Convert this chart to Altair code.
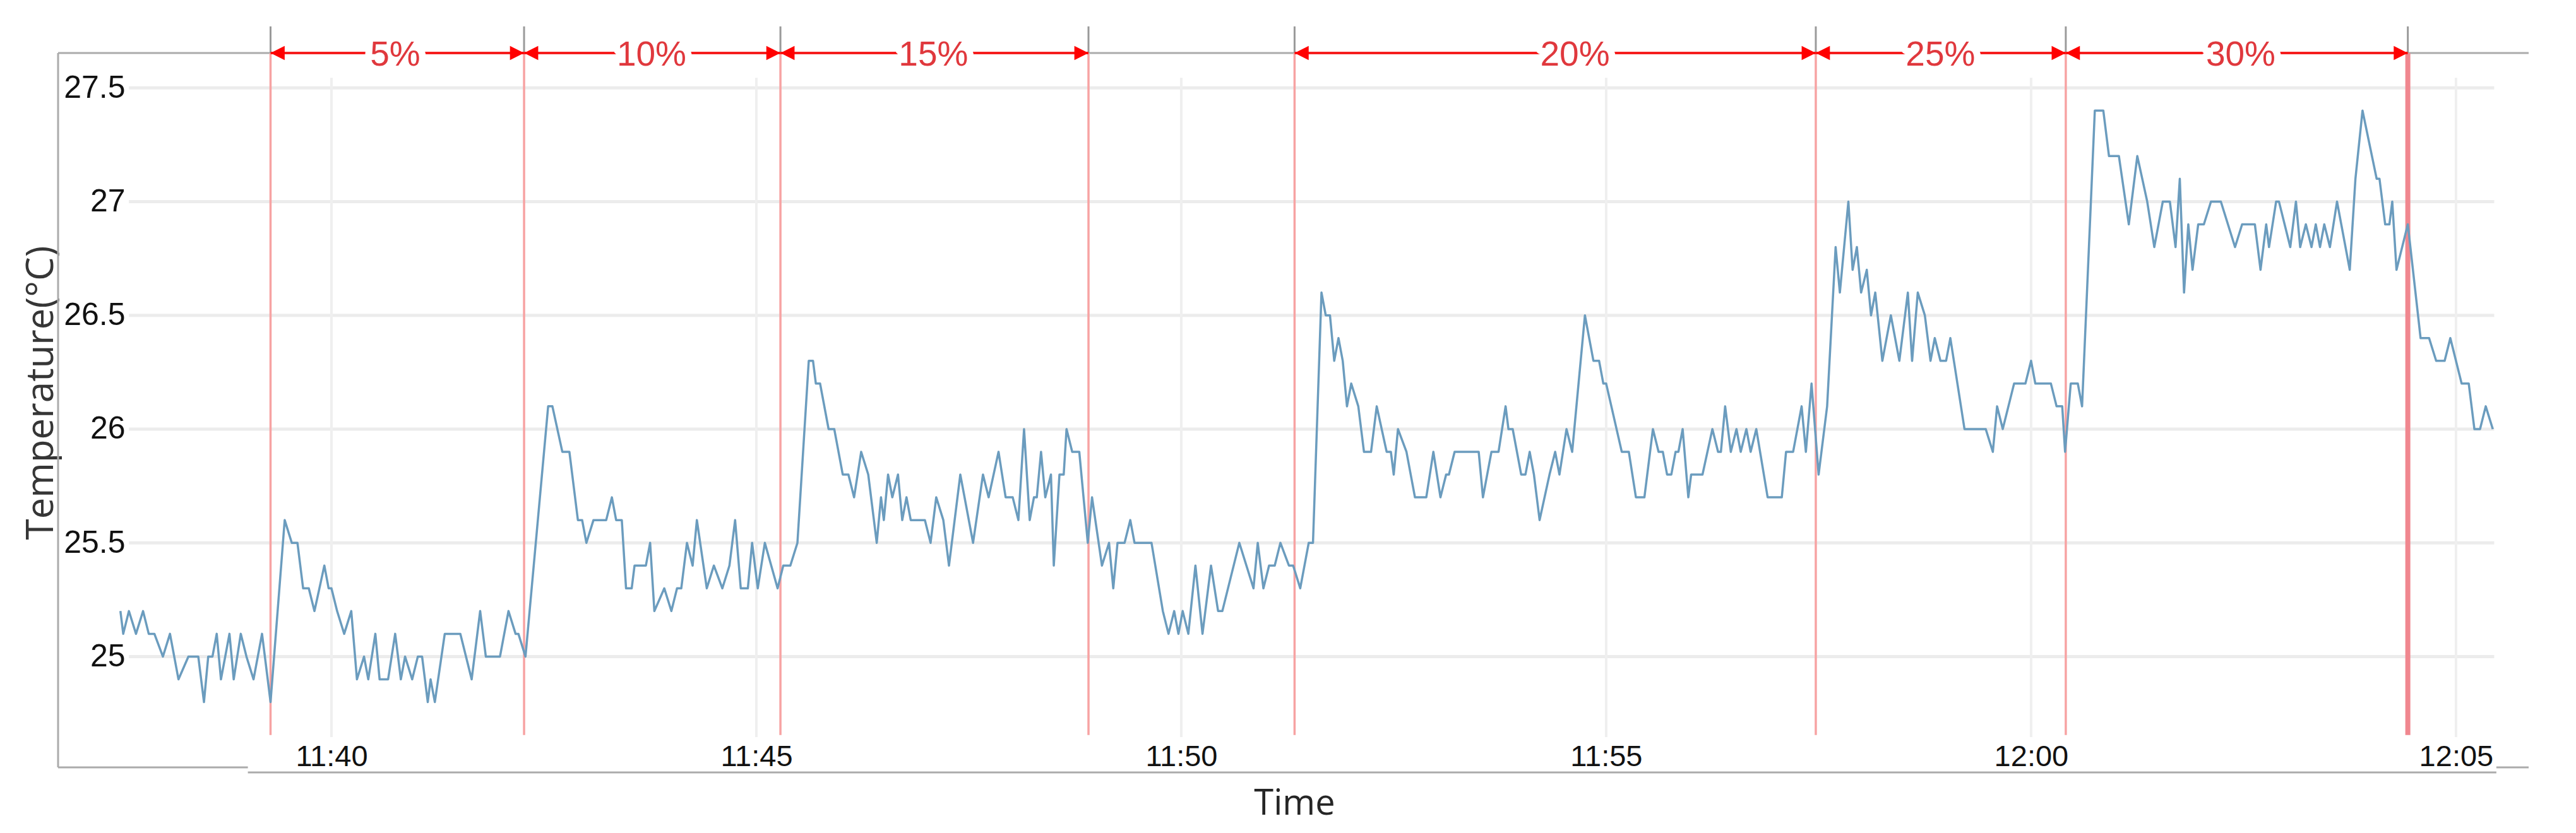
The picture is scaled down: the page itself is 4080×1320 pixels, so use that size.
import altair as alt
import pandas as pd

BASE = pd.Timestamp("2020-01-01 11:37:00")

# ---- temperature readings: (seconds after 11:37:00, temperature °C) ----
readings_a = [
    (31, 25.2), (33, 25.1), (37, 25.2), (42, 25.1), (47, 25.2), (51, 25.1), (55, 25.1), (61, 25.0),
    (66, 25.1), (72, 24.9), (79, 25.0), (86, 25.0), (90, 24.8), (93, 25.0), (96, 25.0), (99, 25.1),
    (102, 24.9), (108, 25.1), (111, 24.9), (116, 25.1), (120, 25.0), (125, 24.9), (131, 25.1),
    (137, 24.8), (147, 25.6), (152, 25.5), (156, 25.5), (160, 25.3), (164, 25.3), (168, 25.2),
    (175, 25.4), (178, 25.3), (180, 25.3), (184, 25.2), (189, 25.1), (194, 25.2), (198, 24.9),
    (203, 25.0), (206, 24.9), (211, 25.1), (214, 24.9), (220, 24.9), (225, 25.1), (229, 24.9),
    (232, 25.0), (237, 24.9), (241, 25.0), (244, 25.0), (248, 24.8), (250, 24.9), (253, 24.8),
    (260, 25.1), (264, 25.1), (271, 25.1), (279, 24.9), (285, 25.2), (289, 25.0), (299, 25.0),
    (305, 25.2), (310, 25.1), (312, 25.1), (317, 25.0), (333, 26.1), (336, 26.1), (343, 25.9),
    (348, 25.9), (354, 25.6), (357, 25.6), (360, 25.5), (365, 25.6), (374, 25.6), (378, 25.7),
    (381, 25.6), (385, 25.6), (388, 25.3), (392, 25.3), (394, 25.4), (402, 25.4), (405, 25.5),
    (408, 25.2), (415, 25.3), (420, 25.2),
]
readings_b = [
    (424, 25.3), (427, 25.3), (431, 25.5), (435, 25.4), (438, 25.6), (445, 25.3), (450, 25.4),
    (456, 25.3), (461, 25.4), (465, 25.6), (469, 25.3), (474, 25.3), (477, 25.5), (481, 25.3),
    (486, 25.5), (495, 25.3), (499, 25.4), (504, 25.4), (509, 25.5), (517, 26.3), (520, 26.3),
    (522, 26.2), (525, 26.2), (531, 26.0), (535, 26.0), (541, 25.8), (545, 25.8), (549, 25.7),
    (554, 25.9), (559, 25.8), (565, 25.5), (568, 25.7), (570, 25.6), (573, 25.8), (576, 25.7),
    (580, 25.8), (583, 25.6), (586, 25.7), (589, 25.6), (599, 25.6), (603, 25.5), (607, 25.7),
    (612, 25.6), (616, 25.4), (624, 25.8), (633, 25.5), (640, 25.8), (644, 25.7), (651, 25.9),
    (656, 25.7), (661, 25.7), (665, 25.6), (669, 26.0), (673, 25.6), (676, 25.7), (678, 25.7),
    (681, 25.9), (684, 25.7), (688, 25.8), (690, 25.4), (694, 25.8), (697, 25.8), (699, 26.0),
    (703, 25.9), (708, 25.9), (714, 25.5), (717, 25.7), (724, 25.4), (729, 25.5), (732, 25.3),
    (735, 25.5), (740, 25.5), (744, 25.6), (747, 25.5), (759, 25.5), (767, 25.2), (771, 25.1),
    (775, 25.2), (778, 25.1), (781, 25.2), (785, 25.1), (790, 25.4), (795, 25.1), (801, 25.4),
    (806, 25.2), (809, 25.2), (821, 25.5), (826, 25.4), (831, 25.3), (834, 25.5), (838, 25.3),
    (842, 25.4), (846, 25.4), (850, 25.5),
]
readings_c = [
    (856, 25.4), (859, 25.4), (864, 25.3), (870, 25.5), (873, 25.5), (879, 26.6), (882, 26.5),
    (885, 26.5), (888, 26.3), (891, 26.4), (894, 26.3), (897, 26.1), (900, 26.2), (905, 26.1),
    (909, 25.9), (914, 25.9), (918, 26.1), (925, 25.9), (928, 25.9), (930, 25.8), (933, 26.0),
    (939, 25.9), (945, 25.7), (953, 25.7), (958, 25.9), (963, 25.7), (967, 25.8), (969, 25.8),
    (973, 25.9), (990, 25.9), (993, 25.7), (999, 25.9), (1004, 25.9), (1009, 26.1), (1011, 26.0),
    (1014, 26.0), (1020, 25.8), (1023, 25.8), (1026, 25.9), (1029, 25.8), (1033, 25.6), (1040, 25.8),
    (1044, 25.9), (1047, 25.8), (1052, 26.0), (1056, 25.9), (1065, 26.5), (1071, 26.3), (1075, 26.3),
    (1078, 26.2), (1080, 26.2), (1091, 25.9), (1096, 25.9), (1101, 25.7), (1107, 25.7), (1113, 26.0),
    (1117, 25.9), (1120, 25.9), (1123, 25.8), (1126, 25.8), (1129, 25.9), (1131, 25.9), (1134, 26.0),
    (1138, 25.7), (1140, 25.8), (1148, 25.8), (1155, 26.0), (1159, 25.9), (1161, 25.9), (1164, 26.1),
    (1168, 25.9), (1172, 26.0), (1175, 25.9), (1179, 26.0), (1182, 25.9), (1186, 26.0), (1194, 25.7),
    (1204, 25.7), (1207, 25.9), (1212, 25.9), (1218, 26.1), (1221, 25.9), (1225, 26.2), (1230, 25.8),
]
readings_d = [
    (1236, 26.1), (1242, 26.8), (1245, 26.6), (1251, 27.0), (1254, 26.7), (1257, 26.8), (1260, 26.6),
    (1264, 26.7), (1267, 26.5), (1270, 26.6), (1275, 26.3), (1281, 26.5), (1287, 26.3), (1293, 26.6),
    (1296, 26.3), (1300, 26.6), (1305, 26.5), (1309, 26.3), (1312, 26.4), (1316, 26.3), (1320, 26.3),
    (1323, 26.4), (1333, 26.0), (1348, 26.0), (1353, 25.9), (1356, 26.1), (1360, 26.0), (1368, 26.2),
    (1376, 26.2), (1380, 26.3), (1383, 26.2), (1394, 26.2), (1398, 26.1), (1402, 26.1), (1404, 25.9),
    (1408, 26.2), (1413, 26.2), (1416, 26.1), (1425, 27.4), (1431, 27.4), (1435, 27.2), (1442, 27.2),
    (1449, 26.9), (1455, 27.2), (1462, 27.0), (1467, 26.8), (1473, 27.0), (1478, 27.0), (1482, 26.8),
    (1485, 27.1), (1488, 26.6), (1491, 26.9), (1494, 26.7), (1498, 26.9), (1502, 26.9), (1507, 27.0),
    (1514, 27.0), (1524, 26.8), (1529, 26.9), (1538, 26.9), (1542, 26.7), (1546, 26.9), (1548, 26.8),
    (1553, 27.0), (1555, 27.0), (1563, 26.8), (1567, 27.0), (1570, 26.8), (1574, 26.9), (1578, 26.8),
    (1581, 26.9), (1584, 26.8), (1587, 26.9), (1591, 26.8), (1596, 27.0), (1605, 26.7), (1609, 27.1),
    (1614, 27.4), (1624, 27.1), (1626, 27.1), (1630, 26.9), (1633, 26.9), (1635, 27.0), (1638, 26.7),
    (1646, 26.9), (1655, 26.4), (1661, 26.4), (1666, 26.3), (1672, 26.3), (1676, 26.4), (1684, 26.2),
    (1689, 26.2), (1693, 26.0), (1697, 26.0), (1701, 26.1), (1706, 26.0),
]

# ---- annotation segments (seconds after 11:37:00) ----
seg_start = [137, 316, 497, 860, 1228, 1404.5]
seg_end = [316, 497, 714.5, 1228, 1404.5, 1646]
seg_label = ["5%", "10%", "15%", "20%", "25%", "30%"]
label_at = [225, 406, 605, 1058, 1316, 1528]
boundaries = [137, 316, 497, 714.5, 860, 1228, 1404.5, 1646]

# ---- axes ----
y_ticks = [25.0, 25.5, 26.0, 26.5, 27.0, 27.5]
x_ticks = [180, 480, 780, 1080, 1380, 1680]      # 11:40 ... 12:05
x_domain = [-13, 1731.3]
y_domain = [24.513, 27.653]
grid_span = [37, 1707]
vgrid_span = [27.544, 24.646]
red_span = [27.653, 24.655]
tick_top = 27.77
label_box_x = [121, 1708.5]
label_box_y = 24.491


def iso(s):
    return (BASE + pd.Timedelta(seconds=float(s))).strftime("%Y-%m-%dT%H:%M:%S.%f")[:-3]


def dt(s):
    t = BASE + pd.Timedelta(seconds=float(s))
    return alt.DateTime(year=t.year, month=t.month, date=t.day, hours=t.hour,
                        minutes=t.minute, seconds=t.second,
                        milliseconds=int(t.microsecond / 1000))


readings = readings_a + readings_b + readings_c + readings_d
line_df = pd.DataFrame({"t": [iso(s) for s, _ in readings],
                        "temp": [v for _, v in readings]})

xs = alt.Scale(domain=[dt(x_domain[0]), dt(x_domain[1])])
ys = alt.Scale(domain=y_domain, nice=False, zero=False)

X_AXIS = alt.Axis(
    values=[dt(s) for s in x_ticks], format="%H:%M", offset=-40, labelPadding=0,
    ticks=False, domain=False, grid=False, labelFlush=False,
    labelFont="Liberation Sans", labelFontSize=47, labelColor="#111111",
    title="Time", titleFont="Open Sans", titleFontSize=56, titleColor="#262626",
    titleFontWeight="normal", titleX=1958, titleY=97, titleBaseline="middle",
    titleAlign="center")
Y_AXIS = alt.Axis(
    values=y_ticks, format=".1~f", offset=-108, labelPadding=2,
    ticks=False, domain=False, grid=False,
    labelFont="Liberation Sans", labelFontSize=50, labelColor="#111111",
    title="Temperature(°C)", titleFont="Open Sans", titleFontSize=60, titleColor="#363636",
    titleFontWeight="normal", titleAngle=270, titleX=-117, titleY=538,
    titleAlign="center", titleBaseline="alphabetic")


def X(field):
    return alt.X(field, type="temporal", scale=xs, axis=X_AXIS)


def Y(field):
    return alt.Y(field, type="quantitative", scale=ys, axis=Y_AXIS)


hgrid_df = pd.DataFrame({"y": y_ticks, "x0": iso(grid_span[0]), "x1": iso(grid_span[1])})
hgrid = alt.Chart(hgrid_df).mark_rule(color="#ececec", strokeWidth=5).encode(
    x=X("x0"), x2="x1:T", y=Y("y"))

vgrid_df = pd.DataFrame({"t": [iso(s) for s in x_ticks], "y0": vgrid_span[0], "y1": vgrid_span[1]})
vgrid = alt.Chart(vgrid_df).mark_rule(color="#efefef", strokeWidth=4).encode(
    x=X("t"), y=Y("y0"), y2="y1:Q")

frame_df = pd.DataFrame({
    "x0": [iso(x_domain[0]), iso(x_domain[0]), iso(x_domain[0]), iso(label_box_x[1]), iso(label_box_x[0])],
    "x1": [iso(x_domain[0]), iso(x_domain[1]), iso(label_box_x[0]), iso(x_domain[1]), iso(label_box_x[1])],
    "y0": [y_domain[1], y_domain[1], y_domain[0], y_domain[0], label_box_y],
    "y1": [y_domain[0], y_domain[1], y_domain[0], y_domain[0], label_box_y],
})
frame = alt.Chart(frame_df).mark_rule(color="#ababab", strokeWidth=3).encode(
    x=X("x0"), x2="x1:T", y=Y("y0"), y2="y1:Q")

bnd_df = pd.DataFrame({"t": [iso(s) for s in boundaries], "top": tick_top,
                       "y0": red_span[0], "y1": red_span[1]})
gray_ticks = alt.Chart(bnd_df).mark_rule(color="#9a9a9a", strokeWidth=3).encode(
    x=X("t"), y=Y("top"), y2="y0:Q")
red_lines = alt.Chart(bnd_df.iloc[:-1]).mark_rule(color="#f7a3a3", strokeWidth=3.5).encode(
    x=X("t"), y=Y("y0"), y2="y1:Q")
red_last = alt.Chart(bnd_df.iloc[-1:]).mark_rule(color="#f0878f", strokeWidth=8).encode(
    x=X("t"), y=Y("y0"), y2="y1:Q")

seg_df = pd.DataFrame({"s": [iso(v) for v in seg_start], "e": [iso(v) for v in seg_end],
                       "y": y_domain[1], "label": seg_label,
                       "lt": [iso(v) for v in label_at]})
arrow_line = alt.Chart(seg_df).mark_rule(color="#f51d1d", strokeWidth=4).encode(
    x=X("s"), x2="e:T", y=Y("y"))
head_left = alt.Chart(seg_df).mark_point(shape="M0,0L1,-0.5L1,0.5Z", filled=True, color="#ff0000",
                                         size=2000, opacity=1).encode(x=X("s"), y=Y("y"))
head_right = alt.Chart(seg_df).mark_point(shape="M0,0L-1,-0.5L-1,0.5Z", filled=True, color="#ff0000",
                                          size=2000, opacity=1).encode(x=X("e"), y=Y("y"))
halo = alt.Chart(seg_df).mark_text(font="Liberation Sans", fontSize=55, color="white", stroke="white",
                                   strokeWidth=22, strokeJoin="round", baseline="middle",
                                   align="center", dy=3).encode(
    x=X("lt"), y=Y("y"), text="label:N")
labels = alt.Chart(seg_df).mark_text(font="Liberation Sans", fontSize=55, color="#e0383d",
                                     baseline="middle", align="center", dy=3).encode(
    x=X("lt"), y=Y("y"), text="label:N")

line = alt.Chart(line_df).mark_line(color="#6b9cbe", strokeWidth=3.5, strokeJoin="round").encode(
    x=X("t"), y=Y("temp"))

chart = alt.layer(
    hgrid, vgrid, frame, gray_ticks, red_lines, red_last, arrow_line,
    head_left, head_right, halo, labels, line
).properties(
    width=3913, height=1132,
    autosize=alt.AutoSizeParams(type="none"),
    padding={"left": 84, "top": 76, "right": 67, "bottom": 96},
    background="white",
).configure_view(stroke=None)

chart.save("out.html", embed_options={"renderer": "svg", "actions": False})
